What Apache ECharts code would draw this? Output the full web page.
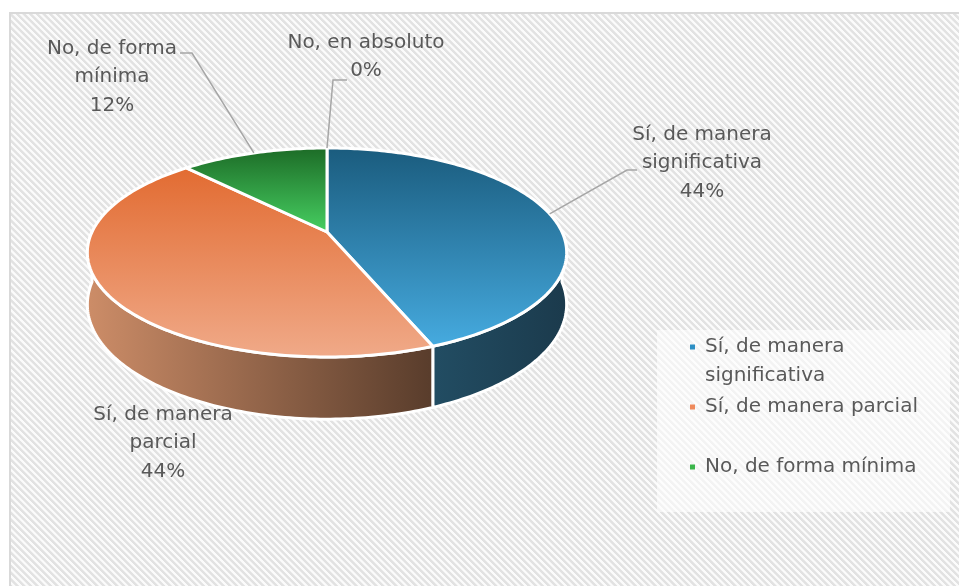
<!DOCTYPE html>
<html>
<head>
<meta charset="utf-8">
<script src="https://cdn.jsdelivr.net/npm/echarts@6/dist/echarts.min.js"></script>
<style>
  html, body { margin: 0; padding: 0; background: #fff; overflow: hidden; }
  #wrap { position: relative; width: 959px; height: 586px; overflow: hidden; background: #fff; }
  #bg {
    position: absolute; left: 9px; top: 12px; width: 1000px; height: 620px;
    border: 2px solid #d9d9d9;
    background: repeating-linear-gradient(45deg, #e2e2e2 0px, #e2e2e2 1.8px, #fbfbfb 2.6px, #fbfbfb 4.2px, #e2e2e2 4.7px);
  }
  #chart { position: absolute; left: 0; top: 0; width: 959px; height: 586px; }
</style>
</head>
<body>
<div id="wrap">
  <div id="bg"></div>
  <div id="chart"></div>
</div>
<script>
const categories = ['Sí, de manera significativa', 'Sí, de manera parcial', 'No, de forma mínima', 'No, en absoluto'];
const values = [44, 44, 12, 0];
const labelNames = ['Sí, de manera\nsignificativa', 'Sí, de manera\nparcial', 'No, de forma\nmínima', 'No, en absoluto'];
const legendNames = categories.slice(0, 3);
// la primera línea en blanco centra el marcador en "Sí, de manera"
const legendLabels = ['\nSí, de manera\nsignificativa', 'Sí, de manera parcial', 'No, de forma mínima'];

// colores: cara superior (arriba -> abajo), lateral (izq -> der), marcador de leyenda
const topColors = [['#1a5b7d', '#46abe0'], ['#e26b31', '#f0aa89'], ['#1c6a26', '#47d062']];
const sideColors = [['#224d63', '#1b3a4c'], ['#cd8d68', '#583c2b'], ['#2a7a35', '#1d5a25']];
const markColors = ['#2d8fc4', '#ef8a5c', '#3ab54a'];
const FONT = '"DejaVu Sans", sans-serif';
const FONT_SIZE = 20;

// tarta 3D en perspectiva
const cx = 327, apexY = 232, rx = 235, ry = 100.5, tilt = 0.196, depth = 50;
// etiquetas: centro del texto y codo / final de la línea guía
const labelLayout = [
  { at: [702, 163], line: [[627, 170], [637, 170]] },
  { at: [163, 443], line: null },
  { at: [112, 77], line: [[192, 53], [180, 53]] },
  { at: [366, 57], line: [[333, 80], [347, 80]] }
];
const legendTop = [303.5, 392.5, 452.5];

const total = values.reduce((a, b) => a + b, 0);

function proj(deg, drop) {
  const r = deg * Math.PI / 180;
  const u = Math.sin(r), v = Math.cos(r);
  const den = 1 + tilt * v;
  return [cx + rx * u / den, apexY - ry * v / den + drop * depth / den];
}

function arc(a, b, drop) {
  const pts = [];
  const n = Math.max(2, Math.ceil(b - a));
  for (let i = 0; i <= n; i++) {
    pts.push(proj(a + (b - a) * i / n, drop));
  }
  return pts;
}

function renderItem(params, api) {
  const idx = params.dataIndex;
  let before = 0;
  for (let i = 0; i < idx; i++) before += values[i];
  const start = before / total * 360;
  const end = (before + values[idx]) / total * 360;
  const children = [];

  if (end > start) {
    children.push({
      type: 'polygon',
      z2: 5,
      shape: { points: [[cx, apexY]].concat(arc(start, end, 0)) },
      style: {
        fill: new echarts.graphic.LinearGradient(0, 0, 0, 1, [
          { offset: 0, color: topColors[idx][0] },
          { offset: 1, color: topColors[idx][1] }
        ]),
        stroke: '#fff',
        lineWidth: 3,
        lineJoin: 'round'
      }
    });
    const a = Math.max(start, 90), b = Math.min(end, 270);
    if (b > a) {
      children.push({
        type: 'polygon',
        z2: 1,
        shape: { points: arc(a, b, 0).concat(arc(a, b, 1).reverse()) },
        style: {
          fill: new echarts.graphic.LinearGradient(0, 0, 1, 0, [
            { offset: 0, color: sideColors[idx][0] },
            { offset: 1, color: sideColors[idx][1] }
          ]),
          stroke: '#fff',
          lineWidth: 3,
          lineJoin: 'round'
        }
      });
    }
  }

  const lay = labelLayout[idx];
  if (lay.line) {
    const mid = (start + end) / 2;
    children.push({
      type: 'polyline',
      z2: 8,
      shape: { points: [proj(mid, 0)].concat(lay.line) },
      style: { stroke: '#a6a6a6', lineWidth: 1.5, fill: null }
    });
  }
  children.push({
    type: 'text',
    z2: 10,
    style: {
      text: labelNames[idx] + '\n' + Math.round(values[idx] / total * 100) + '%',
      x: lay.at[0],
      y: lay.at[1],
      align: 'center',
      verticalAlign: 'middle',
      font: FONT_SIZE + 'px ' + FONT,
      lineHeight: 28.5,
      fill: '#595959'
    }
  });

  return { type: 'group', children: children };
}

const myChart = echarts.init(document.getElementById('chart'));

const option = {
  animation: false,
  backgroundColor: 'transparent',
  graphic: [
    {
      type: 'rect',
      z: -9,
      shape: { x: 657, y: 330, width: 293, height: 182 },
      style: { fill: 'rgba(255,255,255,0.6)' }
    }
  ],
  legend: legendNames.map((name, i) => ({
    data: [name],
    orient: 'vertical',
    left: 690,
    top: legendTop[i],
    padding: 0,
    icon: 'rect',
    itemWidth: 5,
    itemHeight: 5,
    selectedMode: false,
    formatter: n => legendLabels[legendNames.indexOf(n)],
    textStyle: { fontSize: FONT_SIZE, fontFamily: FONT, color: '#595959', lineHeight: 29, padding: [0, 0, 0, 5] }
  })),
  series: [
    {
      type: 'custom',
      coordinateSystem: 'none',
      silent: true,
      renderItem: renderItem,
      data: values
    },
    {
      // solo alimenta la leyenda
      type: 'pie',
      silent: true,
      radius: [0, 0],
      center: [-50, -50],
      label: { show: false },
      labelLine: { show: false },
      data: legendNames.map((n, i) => ({ name: n, value: values[i], itemStyle: { color: markColors[i] } }))
    }
  ]
};

myChart.setOption(option);
</script>
</body>
</html>
